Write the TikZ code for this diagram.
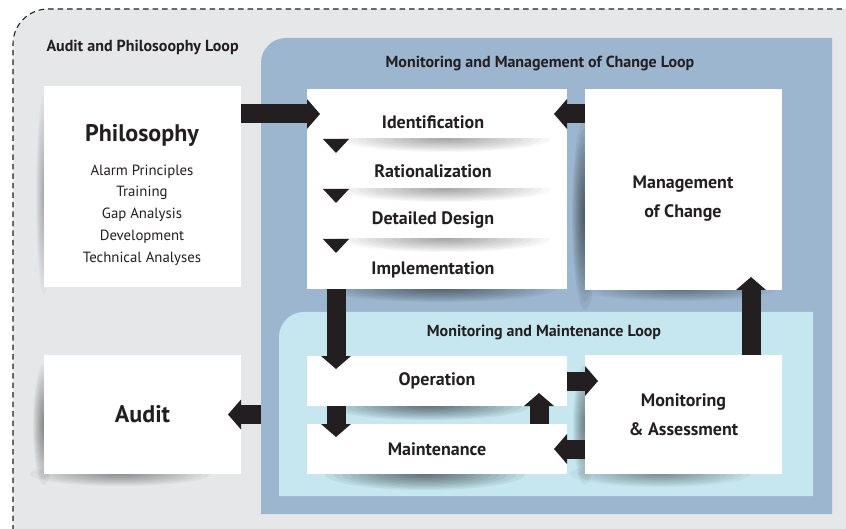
\documentclass[tikz,border=0pt]{standalone}
\usepackage{fontspec}
\setmainfont{PT Sans}
\usetikzlibrary{arrows.meta,calc}
\definecolor{outergray}{HTML}{E6E7E9}
\definecolor{loopblue}{HTML}{9BB6CE}
\definecolor{innerblue}{HTML}{C6E7F0}
\definecolor{inkc}{HTML}{231F20}
% soft shadow: opacity step, centre, x radius, y radius
\newcommand\boxshade[4]{%
	\foreach \k in {1,...,12}{
		\fill[black, opacity=#1] #2 ellipse ({#3*\k/12} and {#4*\k/12});
	}}
\tikzset{
  box/.style={fill=white, anchor=north west, inner sep=0pt, outer sep=0pt},
  flow/.style={draw=inkc, line width=19pt, -{Triangle[length=13pt,width=30pt,line width=0pt]}, shorten >=-13pt},
  looptext/.style={text=inkc, font=\bfseries\fontsize{16}{19}\selectfont},
  steptext/.style={text=inkc, font=\bfseries\fontsize{18}{29}\selectfont, align=center},
  bigtext/.style={text=inkc, font=\bfseries\fontsize{24}{28}\selectfont},
  itemtext/.style={text=inkc, font=\fontsize{14.8}{21.8}\selectfont, align=center},
}
\begin{document}
\begin{tikzpicture}[x=1pt,y=-1pt,line join=round]
	\useasboundingbox (0,0) rectangle (846,529);
	\clip (0,0) rectangle (846,529);
	% loops
	\fill[outergray] (13,540) [rounded corners=35pt] -- (13,9) [sharp corners] -- (860,9) -- (860,540) -- cycle;
	\draw[inkc, line width=1.1pt, dash pattern=on 5.5pt off 4pt] (13,540) [rounded corners=35pt] -- (13,9) [sharp corners] -- (860,9);
	\fill[loopblue] (261,514) [rounded corners=25pt] -- (261,38) [sharp corners] -- (832,38) -- (832,514) -- cycle;
	\fill[innerblue] (279,496) [rounded corners=25pt] -- (279,312) [sharp corners] -- (813,312) -- (813,496) -- cycle;
	\coordinate (loopw) at (261,414);
	\node[looptext, anchor=west] (aploop) at (43,47) {Audit and Philosoophy Loop};
	\node[looptext] (mmcloop) at (540,63) {Monitoring and Management of Change Loop};
	\node[looptext] (mmloop) at (544,333) {Monitoring and Maintenance Loop};
	% shadows
	\boxshade{0.045}{(440,289)}{115}{13}
	\boxshade{0.05}{(585,215)}{13}{95}
	\boxshade{0.03}{(680,290)}{95}{11}
	\boxshade{0.05}{(430,406)}{100}{14}
	\boxshade{0.05}{(425,474)}{100}{16}
	\boxshade{0.045}{(585,425)}{12}{60}
	\boxshade{0.035}{(660,474)}{90}{13}
	\boxshade{0.04}{(44,425)}{11}{60}
	\boxshade{0.035}{(120,474)}{90}{12}
	\boxshade{0.025}{(44,195)}{8}{100}
	% boxes
	\node[box, minimum width=197pt, minimum height=201pt] (phil) at (44,86) {};
	\node[box, minimum width=197pt, minimum height=119pt, bigtext] (audit) at (44,355) {Audit};
	\node[box, minimum width=260pt, minimum height=200pt] (ident) at (307,89) {};
	\node[box, minimum width=197pt, minimum height=201pt] (change) at (585,89) {};
	\node[box, minimum width=260pt, minimum height=50pt, steptext] (oper) at (307,356) {Operation};
	\node[box, minimum width=260pt, minimum height=50pt, steptext] (maint) at (307,424) {Maintenance};
	\node[box, minimum width=197pt, minimum height=119pt, steptext] (monit) at (585,355) {Monitoring\\\& Assessment};
	% texts
	\node[bigtext] (philtitle) at (142,135) {Philosophy};
	\node[itemtext] (philitems) at (142,215) {Alarm Principles\\Training\\Gap Analysis\\Development\\Technical Analyses};
	\node[steptext] (changetext) at (683,199) {Management\\of Change};
	\foreach \y in {139,189,239}{
		\begin{scope}
			\clip (330,\y) rectangle (567,\y+20);
			\boxshade{0.03}{(445,\y)}{105}{13}
		\end{scope}
		\fill[inkc] (323,\y) -- (349,\y) -- (336,\y+14) -- cycle;
	}
	\node[steptext] (tident) at (433,122) {Identification};
	\node[steptext] (trat) at (433,171) {Rationalization};
	\node[steptext] (tdes) at (433,220) {Detailed Design};
	\node[steptext] (timp) at (433,270) {Implementation};
	% arrows
	\draw[flow] ($(phil.north east)+(0,28)$) -- ($(ident.north west)+(0,25)$);
	\draw[flow] ($(change.north west)+(0,25)$) -- ($(ident.north east)+(0,25)$);
	\draw[flow] ($(ident.south west)+(29,0)$) -- ($(oper.north west)+(29,0)$);
	\draw[flow] ($(oper.south west)+(29,0)$) -- ($(maint.north west)+(29,0)$);
	\draw[flow] ($(maint.north east)+(-28,0)$) -- ($(oper.south east)+(-28,0)$);
	\draw[flow] (oper.east) -- (monit.west |- oper.east);
	\draw[flow] (monit.west |- maint.east) -- (maint.east);
	\draw[flow] ($(monit.north east)+(-31,0)$) -- ($(change.south east)+(-31,0)$);
	\draw[flow] (audit.east -| loopw) -- (audit.east);
\end{tikzpicture}
\end{document}
